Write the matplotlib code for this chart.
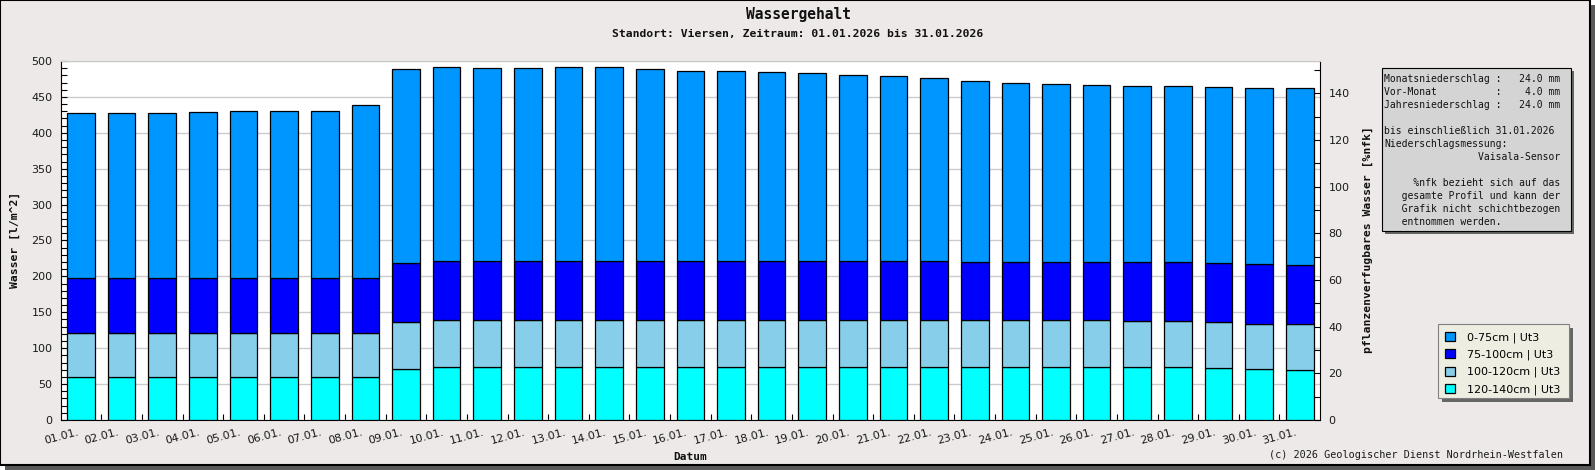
import numpy as np
import matplotlib.pyplot as plt
from matplotlib.patches import Rectangle
from matplotlib.ticker import MultipleLocator
from matplotlib.transforms import ScaledTranslation

W, H = 1595, 470  # Bildgroesse in Pixel

tage = ["01.01.", "02.01.", "03.01.", "04.01.", "05.01.", "06.01.", "07.01.", "08.01.",
        "09.01.", "10.01.", "11.01.", "12.01.", "13.01.", "14.01.", "15.01.", "16.01.",
        "17.01.", "18.01.", "19.01.", "20.01.", "21.01.", "22.01.", "23.01.", "24.01.",
        "25.01.", "26.01.", "27.01.", "28.01.", "29.01.", "30.01.", "31.01."]

# Wassergehalt je Schicht in l/m^2 (von unten nach oben gestapelt)
w_120_140 = [60.3, 60.3, 60.3, 60.3, 60.3, 60.3, 60.3, 60.3, 71.0, 73.5, 73.5, 73.5, 73.5, 73.5,
             73.5, 73.5, 73.5, 73.5, 73.5, 73.5, 73.5, 73.5, 73.5, 73.5, 73.5, 73.5, 73.5, 73.5,
             72.0, 71.2, 69.3]
w_100_120 = [60.4, 60.4, 60.4, 60.4, 60.4, 60.4, 60.4, 60.4, 65.3, 65.1, 65.1, 65.1, 65.1, 65.1,
             65.1, 65.1, 65.1, 65.1, 65.1, 65.1, 65.1, 65.1, 65.1, 65.1, 65.1, 65.1, 63.7, 63.7,
             63.8, 63.2, 64.7]
w_75_100 = [77.0, 77.0, 77.0, 77.0, 77.0, 77.0, 77.0, 77.0, 82.3, 82.8, 82.8, 82.8, 82.8, 82.8,
            82.8, 82.8, 82.8, 82.8, 82.8, 82.8, 82.8, 82.8, 81.4, 81.4, 81.4, 81.4, 82.8, 82.8,
            82.8, 82.8, 81.8]
w_0_75 = [229.7, 229.7, 229.7, 231.1, 233.0, 233.0, 233.0, 241.4, 270.8, 270.8, 269.4, 269.4,
          270.8, 270.8, 268.0, 265.2, 265.2, 263.8, 262.4, 259.6, 258.2, 255.4, 252.6, 249.8,
          248.4, 247.0, 245.6, 245.6, 245.6, 245.6, 247.0]

schichten = ["120-140cm | Ut3", "100-120cm | Ut3", "75-100cm | Ut3", "0-75cm | Ut3"]
farben = ["#00FFFF", "#87CEEB", "#0000FF", "#0096FF"]

nfk_max = 153.8  # rechte Achse [%nfk], entspricht 500 l/m^2

info_zeilen = [
    "Monatsniederschlag :   24.0 mm",
    "Vor-Monat          :    4.0 mm",
    "Jahresniederschlag :   24.0 mm",
    "",
    "bis einschließlich 31.01.2026",
    "Niederschlagsmessung:",
    "                Vaisala-Sensor",
    "",
    "     %nfk bezieht sich auf das",
    "   gesamte Profil und kann der",
    "   Grafik nicht schichtbezogen",
    "   entnommen werden.",
]

mono = "DejaVu Sans Mono"


def fx(x):
    return x / W


def fy(y):
    return 1 - y / H


def px_rect(x0, y0, x1, y1, **kw):
    return Rectangle((fx(x0), fy(y1)), (x1 - x0) / W, (y1 - y0) / H,
                     transform=fig.transFigure, **kw)


fig = plt.figure(figsize=(W / 100, H / 100), dpi=100)
fig.patch.set_facecolor("white")

# Rahmen mit Schatten
fig.add_artist(px_rect(5, 5, W, H, facecolor="#5a5a5a", edgecolor="none", zorder=-20))
fig.add_artist(px_rect(0, 0, 1590, 465, facecolor="#ECE9E8", edgecolor="black",
                       linewidth=1.5, zorder=-19))

ax = fig.add_axes([fx(60.7), fy(420), (1320 - 60.7) / W, (420 - 61) / H])
ax.set_facecolor("white")
ax2 = ax.twinx()

x = np.arange(len(tage))
unten = np.zeros(len(tage))
balken = []
for werte, farbe, name in zip([w_120_140, w_100_120, w_75_100, w_0_75], farben, schichten):
    b = ax.bar(x, werte, width=0.68, bottom=unten, color=farbe, edgecolor="black",
               linewidth=0.9, label=name, zorder=3)
    balken.append(b)
    unten = unten + np.array(werte)

ax.set_xlim(-0.5, len(tage) - 0.5)
ax.set_ylim(0, 500)
ax2.set_ylim(0, nfk_max)

ax.yaxis.set_major_locator(MultipleLocator(50))
ax.yaxis.set_minor_locator(MultipleLocator(10))
ax.yaxis.grid(True, which="major", color="#CCCCCC", linewidth=1)
ax.set_axisbelow(True)
ax.tick_params(axis="y", which="major", direction="in", length=4, width=0.8, pad=6,
               labelsize=8, labelcolor="#1a1a1a")
ax.tick_params(axis="y", which="minor", direction="in", length=4, width=0.8)

ax.set_xticks(x)
ax.set_xticklabels(tage, rotation=15, ha="right", va="top", rotation_mode="anchor")
ax.tick_params(axis="x", which="major", length=0, pad=5, labelsize=8, labelcolor="#1a1a1a")
ax.set_xticks(np.arange(0.5, len(tage) - 1, 1), minor=True)
ax.tick_params(axis="x", which="minor", direction="in", length=4, width=0.8)
versatz = ScaledTranslation(-3 / 72, 0, fig.dpi_scale_trans)
for lbl in ax.get_xticklabels():
    lbl.set_transform(lbl.get_transform() + versatz)

ax2.yaxis.set_major_locator(MultipleLocator(20))
ax2.yaxis.set_minor_locator(MultipleLocator(10))
ax2.tick_params(axis="y", which="major", direction="in", length=4, width=0.8, pad=6,
                labelsize=8, labelcolor="#1a1a1a")
ax2.tick_params(axis="y", which="minor", direction="in", length=4, width=0.8)

for s in ["top", "right"]:
    ax.spines[s].set_visible(False)
for s in ["left", "bottom"]:
    ax2.spines[s].set_visible(False)
ax2.spines["top"].set_color("#C8C8C8")
ax2.spines["right"].set_color("black")

# Titel und Achsenbeschriftungen
fig.text(fx(798), fy(14), "Wassergehalt", ha="center", va="center", family=mono,
         fontsize=10.5, weight="bold", color="#111111")
fig.text(fx(798), fy(34), "Standort: Viersen, Zeitraum: 01.01.2026 bis 31.01.2026",
         ha="center", va="center", family=mono, fontsize=8.2, weight="bold", color="#111111")
fig.text(fx(15), fy(240), "Wasser [l/m^2]", rotation=90, ha="center", va="center",
         family=mono, fontsize=8.2, weight="bold", color="#111111")
fig.text(fx(1368), fy(240), "pflanzenverfugbares Wasser [%nfk]", rotation=90, ha="center",
         va="center", family=mono, fontsize=8.2, weight="bold", color="#111111")
fig.text(fx(690), fy(457), "Datum", ha="center", va="center", family=mono, fontsize=8,
         weight="bold", color="#111111")
fig.text(fx(1562.7), fy(455), "(c) 2026 Geologischer Dienst Nordrhein-Westfalen",
         ha="right", va="center", family=mono, fontsize=7.3, color="#1a1a1a")

# Infokasten
fig.add_artist(px_rect(1385, 71, 1574, 234, facecolor="#666666", edgecolor="none", zorder=2))
fig.add_artist(px_rect(1381.7, 68, 1570.7, 230.7, facecolor="#D4D4D4", edgecolor="black",
                       linewidth=0.8, zorder=3))
for i, zeile in enumerate(info_zeilen):
    fig.text(fx(1384.3), fy(79.3 + 13 * i), zeile, ha="left", va="center", family=mono,
             fontsize=7, color="#111111", zorder=4)

# Legende
fig.add_artist(px_rect(1441.5, 328, 1573, 402, facecolor="#666666", edgecolor="none", zorder=2))
fig.add_artist(px_rect(1437.7, 324, 1569, 398, facecolor="#EDEDE1", edgecolor="#808080",
                       linewidth=0.8, zorder=3))
fig.legend(balken[::-1], schichten[::-1], loc="upper left",
           bbox_to_anchor=(fx(1437.7), fy(324)), bbox_transform=fig.transFigure,
           frameon=False, fontsize=8, borderpad=0.7, borderaxespad=0, handlelength=0.84,
           handleheight=0.85, handletextpad=1.1, labelspacing=0.6)

fig.savefig("out.png", dpi=100)
